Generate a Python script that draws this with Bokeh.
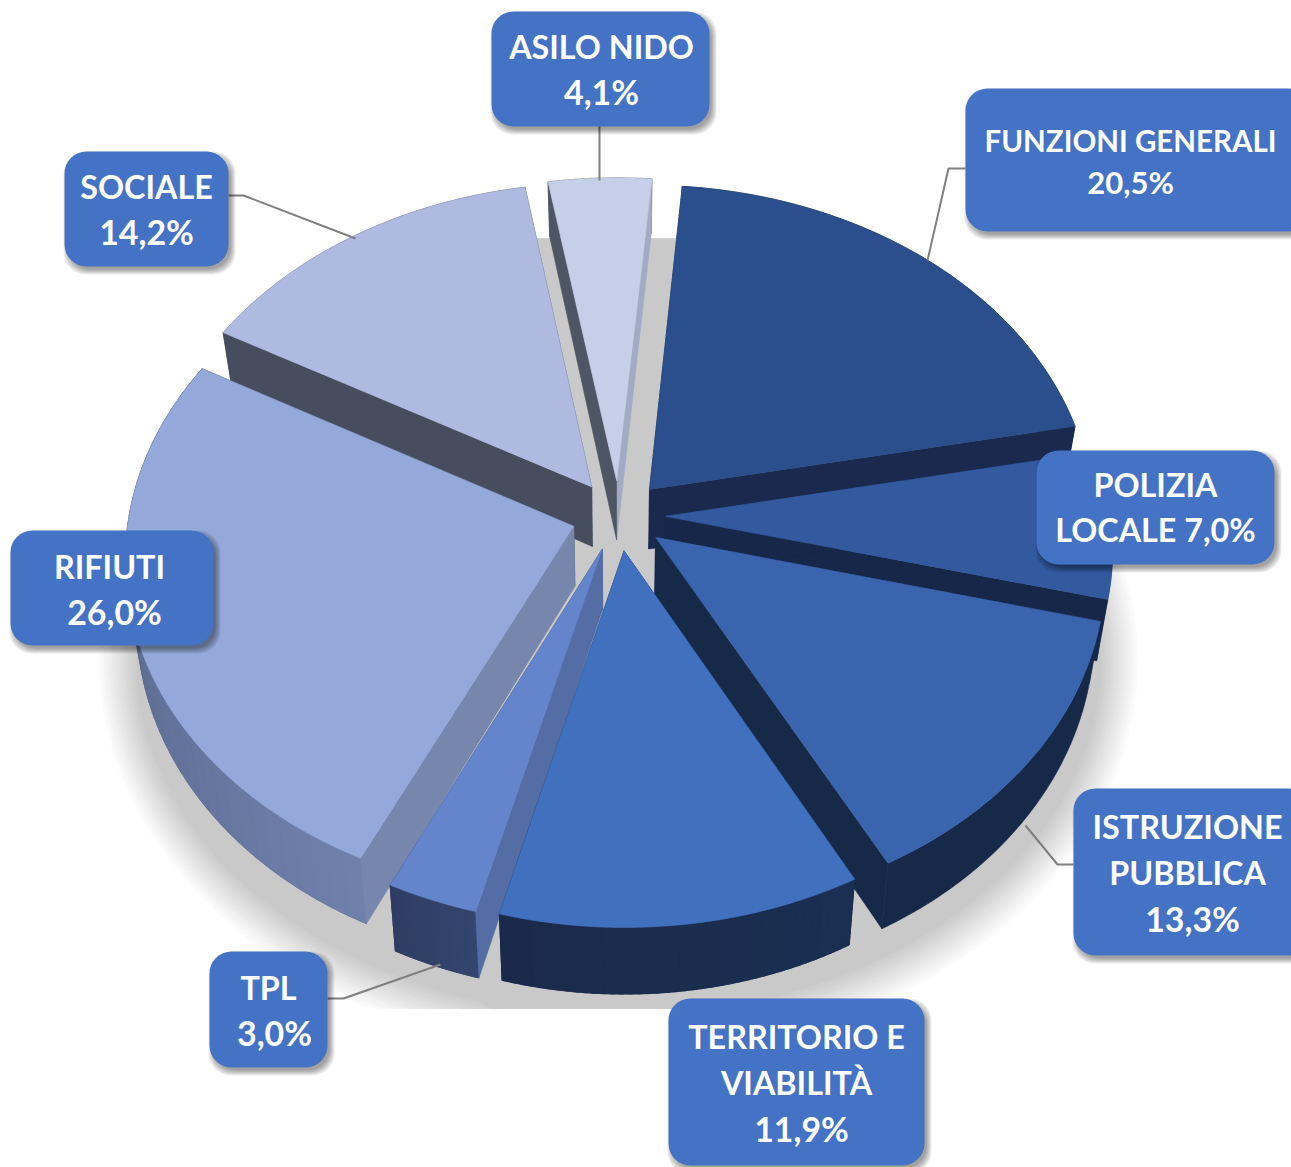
import numpy as np
from bokeh.plotting import figure
from bokeh.models import Range1d
from bokeh.embed import file_html
from bokeh.resources import INLINE
from bokeh.core.properties import value

categories = ["FUNZIONI GENERALI", "POLIZIA LOCALE", "ISTRUZIONE PUBBLICA", "TERRITORIO E VIABILITÀ",
              "TPL", "RIFIUTI", "SOCIALE", "ASILO NIDO"]
shares = [20.5, 7.0, 13.3, 11.9, 3.0, 26.0, 14.2, 4.1]
label_lines = [["FUNZIONI GENERALI", "20,5%"], ["POLIZIA", "LOCALE 7,0%"], ["ISTRUZIONE", "PUBBLICA", "13,3%"],
               ["TERRITORIO E", "VIABILITÀ", "11,9%"], ["TPL", "3,0%"], ["RIFIUTI", "26,0%"],
               ["SOCIALE", "14,2%"], ["ASILO NIDO", "4,1%"]]

# styles
top_col = ["#2B4F8C", "#335A9F", "#3A65AE", "#4170BF", "#6484CC", "#94A8D9", "#AEBAE0", "#C6CFE8"]
wall_a = ["#1A294D", "#16274A", "#172948", "#1A2F52", "#34466F", "#6F80AB", "#454D5E", "#4E5564"]
wall_b = ["#1A294D", "#16274A", "#172948", "#1B2A4B", "#2F3D63", "#4F5A7A", "#454D5E", "#4E5564"]
side_start = ["#1A294D", "#16274A", "#172948", "#1A2F52", "#546EA5", "#7686AC", "#454D5E", "#4E5564"]
side_end = ["#1A294D", "#16274A", "#172948", "#1A2F52", "#34466F", "#454D5E", "#454D5E", "#A2ABC4"]
draw_order = [0, 6, 7, 1, 2, 5, 4, 3]

# layout
start_deg = 5.0
explode = [0.105, 0.105, 0.105, 0.105, 0.105, 0.105, 0.105, 0.105]
cx, cy, a, f, k, d, base_x = 618.0, 515.0, 445.0, 336.0, 0.09, 60.0, 0.977

box_rects = [(965, 88, 1310, 231), (1036, 450, 1274, 564), (1073, 788, 1310, 955), (668, 998, 924, 1165),
             (209, 951, 327, 1067), (10, 530, 213, 645), (64, 151, 228, 266), (491, 11, 709, 126)]
text_x = [[1130, 1130], [1155, 1155], [1187, 1187, 1192], [796, 796, 801], [268, 274], [109, 114], [146, 146], [601, 601]]
text_y = [[140, 181], [484, 529], [826, 872, 918], [1036, 1082, 1128], [987, 1032], [566, 611], [186, 231], [46, 91]]
text_px = [29.5, 32.3, 32.3, 32.3, 32.3, 32.3, 32.3, 32.3]
leaders = [[(965, 168), (948, 168), (927, 260)], [(1073, 864), (1057, 864), (1025, 825)],
           [(327, 998), (343, 998), (440, 964)], [(228, 195), (243, 195), (355, 238)],
           [(599, 125), (599, 180)]]


def proj(X, Y, Z=0.0):
    X, Y = np.asarray(X, float), np.asarray(Y, float)
    w = 1 + k * Y
    scale = base_x if Z else 1.0
    return cx + scale * a * X / w, cy - (f * Y + d * Z) / w


def hex2rgb(h):
    return np.array([int(h[i:i + 2], 16) for i in (1, 3, 5)], float)


def mix(c1, c2, t):
    v = hex2rgb(c1) * (1 - t) + hex2rgb(c2) * t
    return "#%02X%02X%02X" % tuple(int(round(x)) for x in v)


def rrect(x0, y0, x1, y1, r=22):
    xs, ys = [], []
    for (ax, ay, s, e) in [(x1 - r, y0 + r, -90, 0), (x1 - r, y1 - r, 0, 90), (x0 + r, y1 - r, 90, 180), (x0 + r, y0 + r, 180, 270)]:
        t = np.radians(np.linspace(s, e, 9))
        xs += list(ax + r * np.cos(t))
        ys += list(ay + r * np.sin(t))
    return xs, ys


p = figure(width=1291, height=1167, x_range=Range1d(0, 1291), y_range=Range1d(1167, 0),
           x_axis_type=None, y_axis_type=None, toolbar_location=None, output_backend="svg",
           min_border=0, outline_line_color=None, background_fill_color="white", border_fill_color="white")
p.grid.visible = False

XS, YS, FC = [], [], []


def add(x, y, c):
    XS.append(list(x))
    YS.append(list(y))
    FC.append(c)


def side_face(ox, oy, tt, col):
    ex, ey = ox + np.sin(tt), oy + np.cos(tt)
    ax_, ay_ = proj(ox, oy, 0)
    bx_, by_ = proj(ex, ey, 0)
    cx_, cy_ = proj(ex, ey, -1)
    dx_, dy_ = proj(ox, oy, -1)
    add([ax_, bx_, cx_, dx_], [ay_, by_, cy_, dy_], col)


# soft floor shadow, clipped top and bottom
t_ang = np.radians(np.linspace(0, 360, 240))
for i in range(16):
    t = i / 15
    g = int(round(255 - (255 - 201) * t))
    rx = 522 - 40 * t
    ry = 400 - 45 * t
    ex = 618 + rx * np.cos(t_ang)
    ey = 660 + ry * np.sin(t_ang)
    add(ex, np.clip(ey, 238, 1008), "#%02X%02X%02X" % (g, g, g))
# the shadow stays solid grey behind the pie's centre
add(618 + 300 * np.cos(t_ang), np.clip(620 + 430 * np.sin(t_ang), 238, 1008), "#C9C9C9")

bounds = start_deg + np.concatenate([[0], np.cumsum(shares)]) * 3.6

for i in draw_order:
    t0, t1 = np.radians(bounds[i]), np.radians(bounds[i + 1])
    m = (t0 + t1) / 2
    ox, oy = explode[i] * np.sin(m), explode[i] * np.cos(m)
    far_slice = np.cos(m) > 0
    th = np.linspace(t0, t1, 80)
    rx, ry = ox + np.sin(th), oy + np.cos(th)
    if not far_slice:
        side_face(ox, oy, t1, side_end[i])
    # outer wall: base colour, then shaded strips only where shading changes
    tx, ty = proj(rx, ry, 0)
    bx, by = proj(rx, ry, -1)
    add(list(tx) + list(bx[::-1]), list(ty) + list(by[::-1]), mix(wall_a[i], wall_b[i], 0.5))
    if wall_a[i] != wall_b[i]:
        n = len(th) - 1
        for j in range(0, n, 2):
            e = min(j + 4, n + 1)
            add(list(tx[j:e]) + list(bx[j:e][::-1]), list(ty[j:e]) + list(by[j:e][::-1]), mix(wall_a[i], wall_b[i], j / n))
    # side faces: on far slices they stand in front of the outer wall
    if far_slice:
        side_face(ox, oy, t1, side_end[i])
    side_face(ox, oy, t0, side_start[i])
    # top face
    tx, ty = proj(np.r_[ox, rx], np.r_[oy, ry], 0)
    add(tx, ty, top_col[i])

p.patches(XS, YS, fill_color=FC, line_color=FC, line_width=0.6)

for pts in leaders:
    p.line([q[0] for q in pts], [q[1] for q in pts], line_color="#7F7F7F", line_width=2)

# label boxes with soft shadows
SX, SY = [], []
for (x0, y0, x1, y1) in box_rects:
    for g in range(6):
        s = 6 - g
        xs, ys = rrect(x0 + 3 - s + 2, y0 + 4 - s + 2, x1 + 3 + s - 2, y1 + 4 + s - 2, 22)
        SX.append(xs)
        SY.append(ys)
p.patches(SX, SY, fill_color="#000000", fill_alpha=0.07, line_color=None)
BX, BY = [], []
for r_ in box_rects:
    xs, ys = rrect(*r_)
    BX.append(xs)
    BY.append(ys)
p.patches(BX, BY, fill_color="#4472C4", line_color=None)

for lines, xs, ys, px in zip(label_lines, text_x, text_y, text_px):
    for line, x, y in zip(lines, xs, ys):
        size = px * 1.05 if line.endswith("%") and " " not in line else px
        p.text([x], [y], text=[line], text_color="white", text_font=value("Lato"), text_font_style="bold",
               text_font_size=f"{size:.1f}px", text_align="center", text_baseline="middle")

open("out.html", "w").write(file_html(p, INLINE))
